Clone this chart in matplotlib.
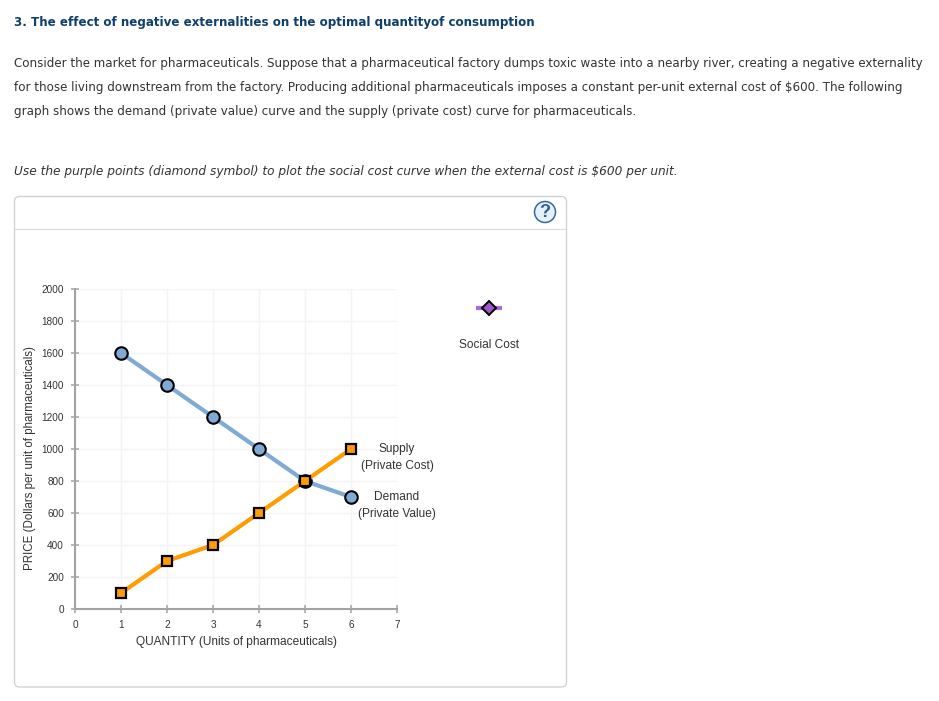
import matplotlib
matplotlib.use("Agg")
import matplotlib.pyplot as plt
from matplotlib.patches import FancyBboxPatch, Circle

W, H = 939, 701
title = "3. The effect of negative externalities on the optimal quantityof consumption"
para = [
    "Consider the market for pharmaceuticals. Suppose that a pharmaceutical factory dumps toxic waste into a nearby river, creating a negative externality",
    "for those living downstream from the factory. Producing additional pharmaceuticals imposes a constant per-unit external cost of $600. The following",
    "graph shows the demand (private value) curve and the supply (private cost) curve for pharmaceuticals.",
]
instr = "Use the purple points (diamond symbol) to plot the social cost curve when the external cost is $600 per unit."

demand_q = [1, 2, 3, 4, 5, 6]
demand_p = [1600, 1400, 1200, 1000, 800, 700]
supply_q = [1, 2, 3, 4, 5, 6]
supply_p = [100, 300, 400, 600, 800, 1000]
x_ticks = [0, 1, 2, 3, 4, 5, 6, 7]
y_ticks = list(range(0, 2001, 200))

BLUE = "#7faad3"
ORANGE = "#ff9c00"
PURPLE = "#ac6bd6"
DIAMOND = "#9c58c9"
GRAY = "#a3a3a3"
GRID = "#f4f4f4"
TXT = "#333333"

fig = plt.figure(figsize=(W / 100, H / 100), dpi=100, facecolor="white")
page = fig.add_axes([0, 0, 1, 1], zorder=1)
page.set_xlim(0, W)
page.set_ylim(H, 0)
page.axis("off")

page.text(14, 22.5, title, family="DejaVu Sans", fontsize=8.56, fontweight="bold",
          color="#0f3f6d", va="center", ha="left")
for yy, line in zip([63, 87, 111], para):
    page.text(14, yy, line, family="DejaVu Sans", fontsize=8.58, color=TXT, va="center", ha="left")
page.text(14, 171, instr, family="DejaVu Sans", fontsize=8.7, style="italic", color=TXT,
          va="center", ha="left")

page.add_patch(FancyBboxPatch((14.5, 196.5), 552, 490.5,
                              boxstyle="round,pad=0,rounding_size=5",
                              fc="white", ec="#cfcfcf", lw=0.9))
page.plot([15, 566], [228.5, 228.5], color="#dddddd", lw=0.9)
page.add_patch(Circle((545, 212), 10.5, fc="#e6f0f8", ec="#336b9e", lw=1.1))
page.text(545, 212.5, "?", family="Liberation Sans", fontsize=13, fontweight="bold",
          color="#2d6296", ha="center", va="center")

ax = fig.add_axes([75 / W, (H - 609) / H, 322 / W, 320 / H], facecolor="none", zorder=2)
ax.set_xlim(0, 7)
ax.set_ylim(0, 2000)
ax.set_xticks(x_ticks)
ax.set_yticks(y_ticks)
ax.set_xticklabels([str(v) for v in x_ticks], family="Liberation Sans", fontsize=7.2, color=TXT)
ax.set_yticklabels([str(v) for v in y_ticks], family="Liberation Sans", fontsize=7.2, color=TXT)
ax.grid(True, color=GRID, lw=1.0, zorder=0)
ax.set_axisbelow(True)
for s in ["top", "right"]:
    ax.spines[s].set_visible(False)
for s in ["left", "bottom"]:
    ax.spines[s].set_color(GRAY)
    ax.spines[s].set_linewidth(1.5)
ax.tick_params(axis="both", direction="inout", length=6, width=1.1, color=GRAY)
ax.tick_params(axis="x", pad=4.8)
ax.tick_params(axis="y", pad=5)
ax.set_xlabel("QUANTITY (Units of pharmaceuticals)", family="Liberation Sans", fontsize=8.6,
              color=TXT)
ax.xaxis.set_label_coords(0.5, -(641.5 - 609) / 320, transform=ax.transAxes)
ax.xaxis.label.set_va("center")
ax.set_ylabel("PRICE (Dollars per unit of pharmaceuticals)", family="Liberation Sans", fontsize=8.3,
              color=TXT)
ax.yaxis.set_label_coords((30 - 75) / 322, (609 - 458) / 320, transform=ax.transAxes)
ax.yaxis.label.set_va("center")

ax.plot(demand_q, demand_p, color=BLUE, lw=3, marker="o", ms=9.0, mfc=BLUE, mec="black", mew=1.5,
        clip_on=False, zorder=3, solid_capstyle="butt")
ax.plot(supply_q, supply_p, color=ORANGE, lw=3, marker="s", ms=7.6, mfc=ORANGE, mec="black", mew=1.6,
        clip_on=False, zorder=4, solid_capstyle="butt")

top = fig.add_axes([0, 0, 1, 1], zorder=3, facecolor="none")
top.set_xlim(0, W)
top.set_ylim(H, 0)
top.axis("off")
for yy, t in [(449, "Supply"), (466, "(Private Cost)"), (497, "Demand"), (514, "(Private Value)")]:
    top.text(397, yy, t, family="Liberation Sans", fontsize=8.6, color=TXT, ha="center", va="center",
             bbox=dict(fc="white", ec="none", pad=1.0))

top.plot([476, 502], [308, 308], color=PURPLE, lw=3, solid_capstyle="butt")
top.plot([489], [308], marker="D", ms=7, mfc=DIAMOND, mec="black", mew=1.4, ls="none")
top.text(489.5, 344.5, "Social Cost", family="Liberation Sans", fontsize=8.6, color=TXT,
         ha="center", va="center")

fig.savefig("out.png", dpi=100)
